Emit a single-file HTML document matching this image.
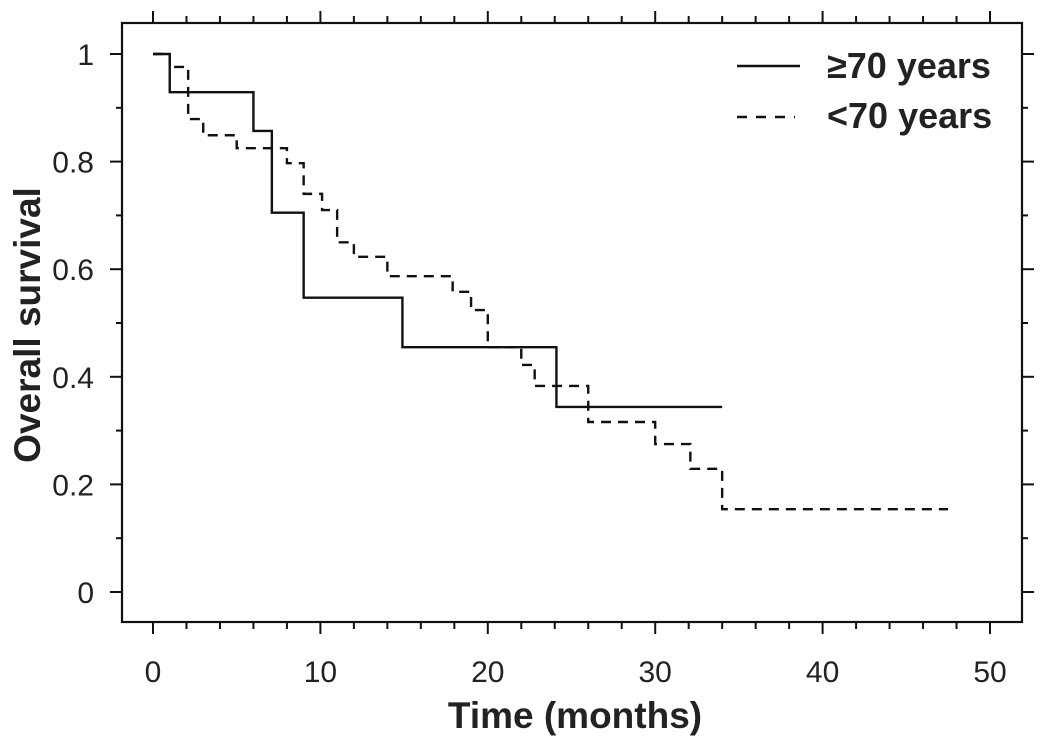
<!DOCTYPE html>
<html><head><meta charset="utf-8"><style>
body{margin:0;background:#fff;width:1042px;height:749px;overflow:hidden}
svg{display:block}
text{font-family:"Liberation Sans",Arial,sans-serif;fill:#222}
</style></head><body>
<svg id="chart" width="1042" height="749" viewBox="0 0 1042 749"></svg>
<script>
const xTicks=[0,10,20,30,40,50];
const yTicks=[0,0.2,0.4,0.6,0.8,1];
const yTickLabels=["0","0.2","0.4","0.6","0.8","1"];
const oldTimes=[0,1,6,7.1,9,14.9,24.1,34];
const oldSurv=[1,0.929,0.857,0.705,0.547,0.455,0.344,0.344];
const youngTimes=[0,1,2.1,3,5,8,9,10.1,11,12,14,17.9,19,20,22,22.8,26,30,32.1,34,47.5];
const youngSurv=[1,0.976,0.879,0.849,0.825,0.797,0.74,0.71,0.65,0.623,0.587,0.558,0.524,0.455,0.422,0.383,0.316,0.275,0.229,0.154,0.154];

const svg=document.getElementById('chart');
const NS='http://www.w3.org/2000/svg';
const L=122,R=1022,T=23,B=622;
function xs(v){return 153+v*(990-153)/50;}
function ys(v){return 592-v*538;}
function mk(tag,attrs){const e=document.createElementNS(NS,tag);for(const k in attrs)e.setAttribute(k,attrs[k]);svg.appendChild(e);return e;}

const frame=mk('rect',{x:L,y:T,width:R-L,height:B-T,fill:'none',stroke:'#111','stroke-width':2.2});



for(let v=0;v<=50;v+=2){
  const major=v%10===0, len=major?12:7, x=xs(v);
  const tb=mk('line',{x1:x,x2:x,y1:B,y2:B+len,stroke:'#111','stroke-width':2});
  
  
  const tt=mk('line',{x1:x,x2:x,y1:T,y2:T-len,stroke:'#111','stroke-width':2});
  
  
}
xTicks.forEach(v=>{
  const t=mk('text',{x:xs(v),y:682,'text-anchor':'middle','font-size':30});
  t.textContent=String(v);
  
  
});
for(let i=0;i<=10;i++){
  const v=i/10, major=i%2===0, len=major?12:6, y=ys(v);
  const tl=mk('line',{x1:L-len,x2:L,y1:y,y2:y,stroke:'#111','stroke-width':2});
  
  
  const tr=mk('line',{x1:R,x2:R+len,y1:y,y2:y,stroke:'#111','stroke-width':2});
  
  
}
yTicks.forEach((v,i)=>{
  const t=mk('text',{x:94,y:ys(v)+11,'text-anchor':'end','font-size':30});
  t.textContent=yTickLabels[i];
  
  
});
const xt=mk('text',{x:575,y:728,'text-anchor':'middle','font-size':37,'font-weight':'bold'});
xt.textContent='Time (months)';


const yt=mk('text',{x:0,y:0,'text-anchor':'middle','font-size':37,'font-weight':'bold',transform:'translate(40,325) rotate(-90)'});
yt.textContent='Overall survival';



function stepPath(ts,ss){
  let d='M'+xs(ts[0])+','+ys(ss[0]);
  for(let i=1;i<ts.length;i++){d+=' H'+xs(ts[i])+' V'+ys(ss[i]);}
  return d;
}
const p1=mk('path',{d:stepPath(oldTimes,oldSurv),fill:'none',stroke:'#111','stroke-width':2.4});


const p2=mk('path',{d:stepPath(youngTimes,youngSurv),fill:'none',stroke:'#111','stroke-width':2.4,'stroke-dasharray':'10,7'});



const l1=mk('line',{x1:737,x2:800,y1:66,y2:66,stroke:'#111','stroke-width':2.4});


const lt1=mk('text',{x:827,y:78,'font-size':36,'font-weight':'bold'});
lt1.textContent='≥70 years';


const l2=mk('line',{x1:737,x2:795,y1:117,y2:117,stroke:'#111','stroke-width':2.4,'stroke-dasharray':'10,9'});


const lt2=mk('text',{x:827,y:128,'font-size':36,'font-weight':'bold'});
lt2.textContent='<70 years';


</script>
</body></html>
